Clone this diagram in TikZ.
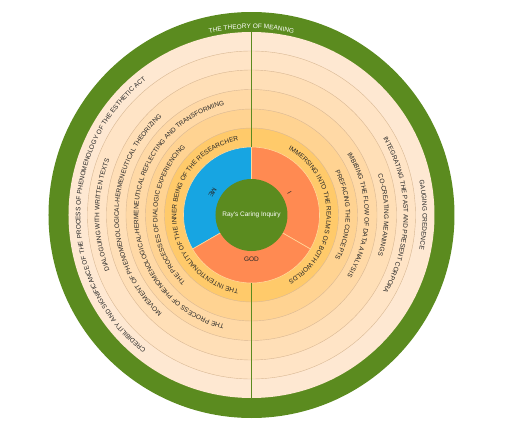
\documentclass[tikz,border=0pt]{standalone}
\usepackage{fontspec}
\usetikzlibrary{decorations.text}
\newfontfamily\ringfont{Liberation Sans}
\newcommand\arcfont{\ringfont\fontsize{6.5}{7.8}\selectfont\color{black!85}}
\tikzset{
  arclabel/.style={decorate,decoration={text along path,text align=center,text={|\arcfont|#1}}},
  ringedge/.style={draw=ringline,line width=.4pt},
  sectorlabel/.style={font=\ringfont\fontsize{6.5}{7.8}\selectfont,text=black!85,inner sep=0pt}
}
\begin{document}
\begin{tikzpicture}[x=1pt,y=1pt,line join=round]
\useasboundingbox (-251.5,-214) rectangle (255.5,215);
\definecolor{meaning}{HTML}{5B8B1F}
\definecolor{ringF}{HTML}{FEE8D2}
\definecolor{ringE}{HTML}{FFE4C6}
\definecolor{ringD}{HTML}{FFDFB7}
\definecolor{ringC}{HTML}{FFD9A6}
\definecolor{ringB}{HTML}{FFD392}
\definecolor{ringA}{HTML}{FFCA6A}
\definecolor{ringline}{HTML}{D9B894}
\definecolor{meblue}{HTML}{17A5E2}
\definecolor{selforange}{HTML}{FF8A52}
\definecolor{sepline}{HTML}{FFD79A}
% outer band and rings
\fill[meaning] (0,0) circle[radius=203];
\fill[ringF] (0,0) circle[radius=183];
\filldraw[fill=ringE,ringedge] (0,0) circle[radius=164];
\filldraw[fill=ringD,ringedge] (0,0) circle[radius=145];
\filldraw[fill=ringC,ringedge] (0,0) circle[radius=125.5];
\filldraw[fill=ringB,ringedge] (0,0) circle[radius=106];
\filldraw[fill=ringA,ringedge] (0,0) circle[radius=87];
% three sectors
\filldraw[fill=meblue,draw=sepline,line width=.6pt] (0,0) -- (90:68) arc[start angle=90,end angle=210,radius=68] -- cycle;
\filldraw[fill=selforange,draw=sepline,line width=.6pt] (0,0) -- (-30:68) arc[start angle=-30,end angle=90,radius=68] -- cycle;
\filldraw[fill=selforange,draw=sepline,line width=.6pt] (0,0) -- (210:68) arc[start angle=210,end angle=330,radius=68] -- cycle;
\fill[meaning] (0,0) circle[radius=36];
% dividing line
\draw[meaning,line width=.9pt] (90:183) -- (90:68);
\draw[meaning,line width=.9pt] (270:68) -- (270:183);
% centre and sector labels
\node[white,font=\ringfont\fontsize{6.5}{7.8}\selectfont] (inquiry) at (0,0) {Ray's Caring Inquiry};
\node[sectorlabel,rotate=240] (me) at (150:45) {ME};
\node[sectorlabel,rotate=120] (self) at (30:44) {I};
\node[sectorlabel] (god) at (270:44) {GOD};
% left half
\path[arclabel={THE INTENTIONALITY OF THE INNER BEING OF THE RESEARCHER}] (270:75.2) arc[start angle=270,end angle=90,radius=75.2];
\path[arclabel={THE PROCESSES OF DIALOGIC EXPERIENCING}] (270:94.2) arc[start angle=270,end angle=90,radius=94.2];
\path[arclabel={THE PROCESS OF PHENOMENOLOGICAL-HERMENEUTICAL REFLECTING AND TRANSFORMING}] (270:113.2) arc[start angle=270,end angle=90,radius=113.2];
\path[arclabel={MOVEMENT OF PHENOMENOLOGICAL-HERMENEUTICAL THEORIZING}] (270:132.7) arc[start angle=270,end angle=90,radius=132.7];
\path[arclabel={DIALOGUING WITH WRITTEN TEXTS}] (270:152.2) arc[start angle=270,end angle=90,radius=152.2];
\path[arclabel={CREDIBILITY AND SIGNIFICANCE OF THE PROCESS OF PHENOMENOLOGY OF THE ESTHETIC ACT}] (270:171.2) arc[start angle=270,end angle=90,radius=171.2];
% right half
\path[arclabel={IMMERSING INTO THE REALMS OF BOTH WORLDS}] (90:75.2) arc[start angle=90,end angle=-90,radius=75.2];
\path[arclabel={PREFACING THE CONCEPTS}] (90:94.2) arc[start angle=90,end angle=-90,radius=94.2];
\path[arclabel={IMBIBING THE FLOW OF DATA ANALYSIS}] (90:113.2) arc[start angle=90,end angle=-90,radius=113.2];
\path[arclabel={CO-CREATING MEANINGS}] (90:132.7) arc[start angle=90,end angle=-90,radius=132.7];
\path[arclabel={INTEGRATING THE PAST AND PRESENT CORPORA}] (90:152.2) arc[start angle=90,end angle=-90,radius=152.2];
\path[arclabel={GAUGING CREDENCE}] (90:171.2) arc[start angle=90,end angle=-90,radius=171.2];
% band title
\path[decorate,decoration={text along path,text align=center,text={|\ringfont\fontsize{6.5}{7.8}\selectfont\color{white}|THE THEORY OF MEANING}}] (180:186.5) arc[start angle=180,end angle=0,radius=186.5];
\end{tikzpicture}
\end{document}
